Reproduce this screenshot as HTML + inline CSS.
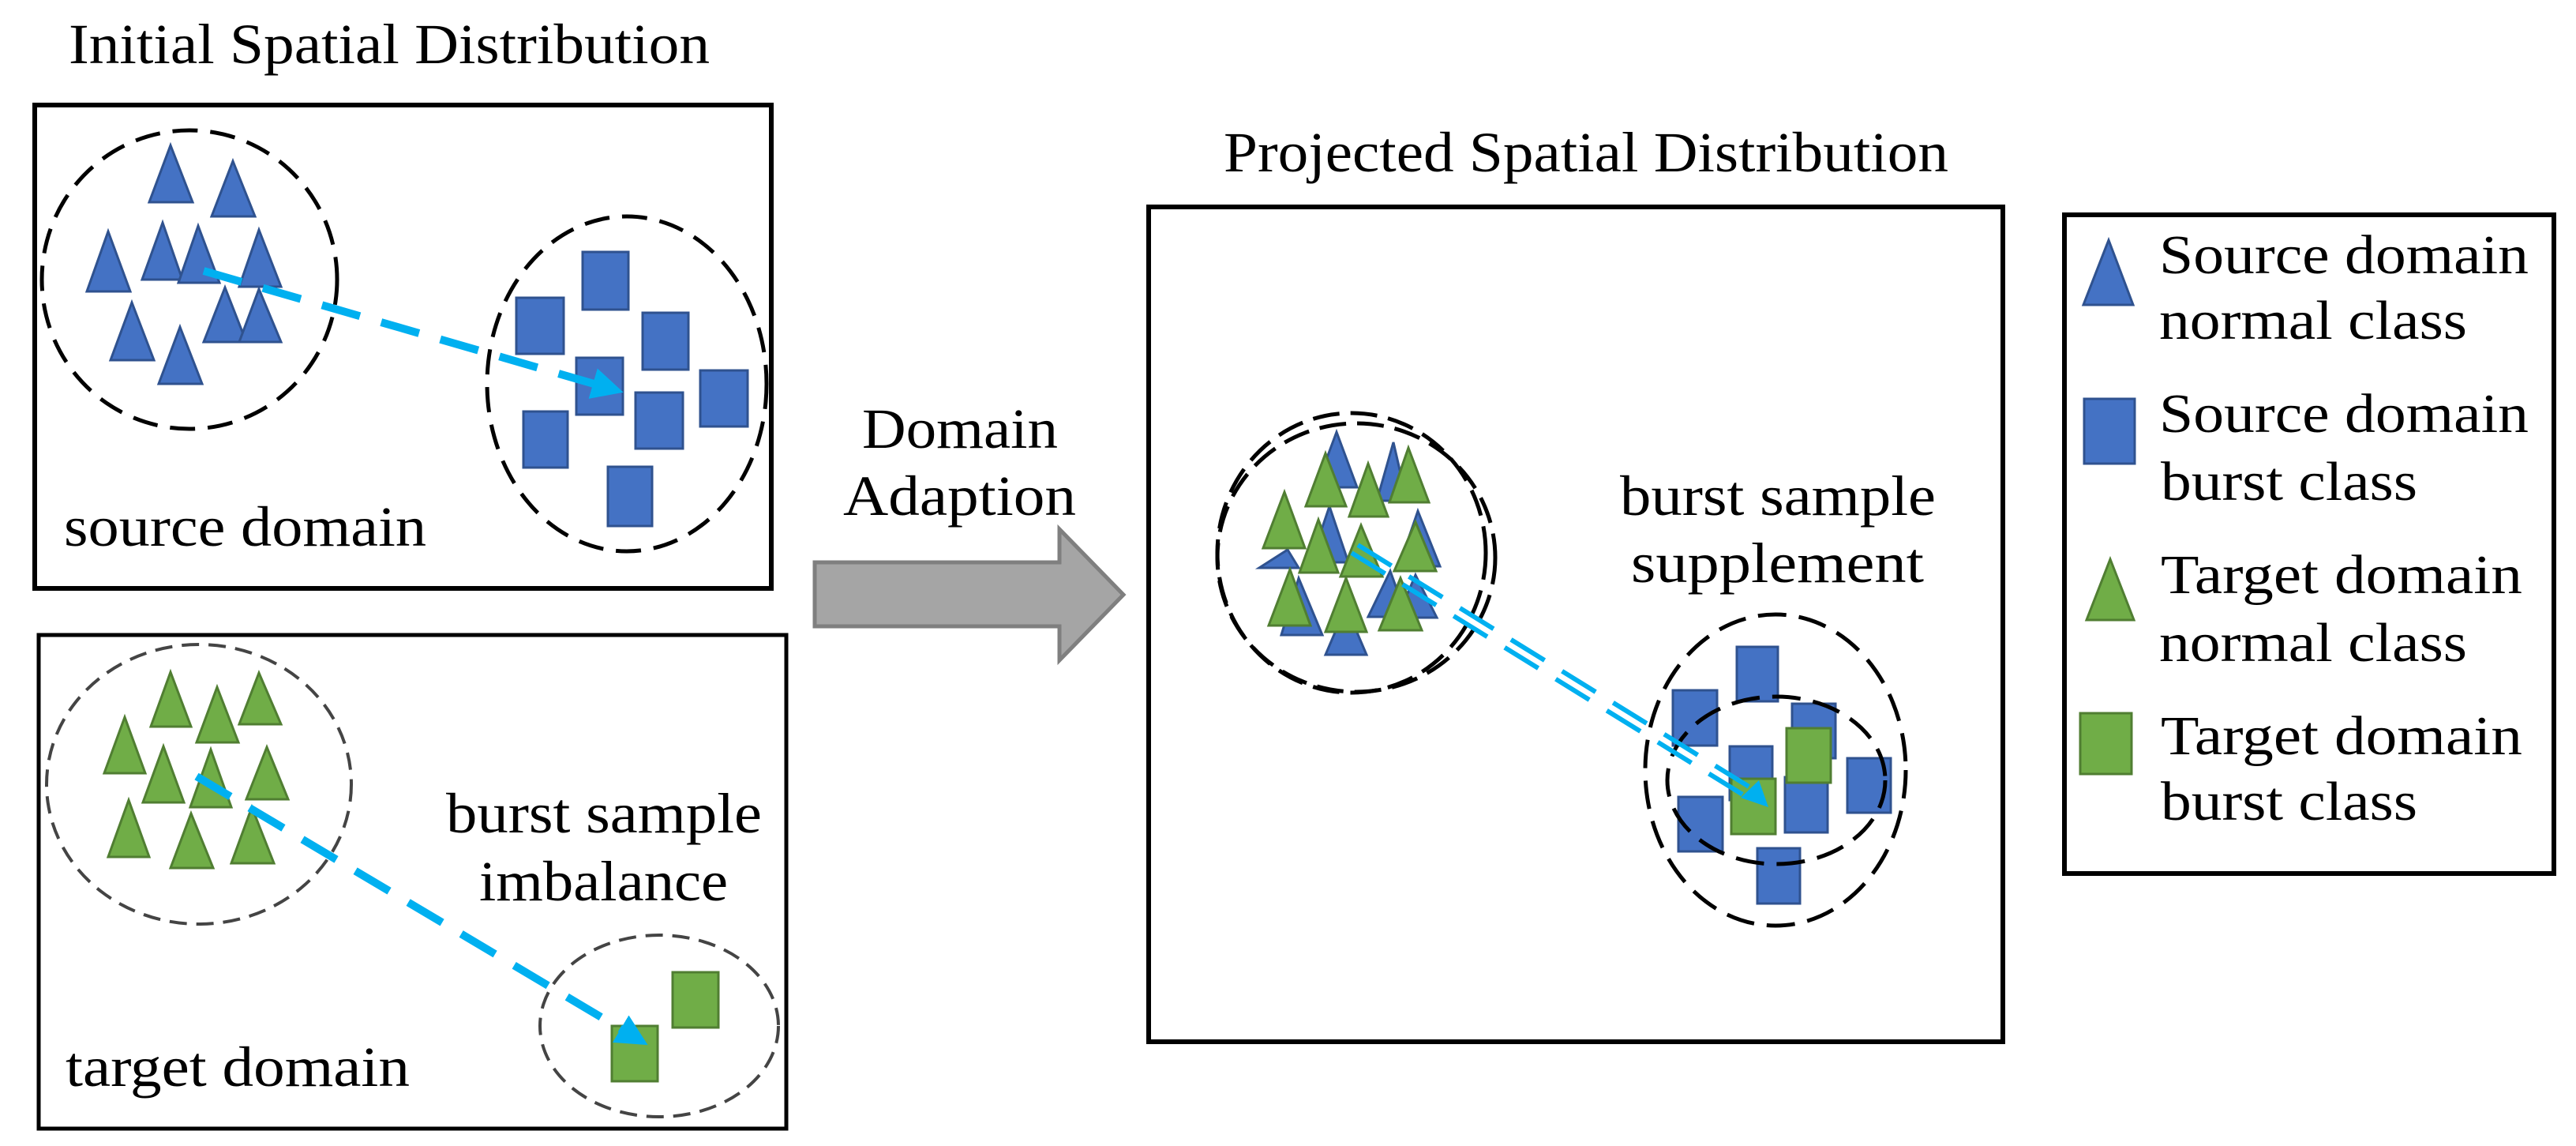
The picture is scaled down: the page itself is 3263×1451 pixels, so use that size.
<!DOCTYPE html>
<html><head><meta charset="utf-8"><style>
html,body{margin:0;padding:0;background:#fff;}
svg{display:block;}
text{font-family:"Liberation Serif",serif;fill:#000;}
</style></head><body>
<svg width="3263" height="1451" viewBox="0 0 3263 1451" xmlns="http://www.w3.org/2000/svg">
<defs>
<marker id="ah" markerWidth="4" markerHeight="4" refX="3" refY="2" orient="auto" markerUnits="strokeWidth">
<path d="M0,0 L4,2 L0,4 Z" fill="#00B0F0"/>
</marker>
</defs>
<g font-size="72">
<text x="87" y="80" textLength="812" lengthAdjust="spacingAndGlyphs">Initial Spatial Distribution</text>
<text x="1550" y="217" textLength="918" lengthAdjust="spacingAndGlyphs">Projected Spatial Distribution</text>
<text x="1092" y="567" textLength="248" lengthAdjust="spacingAndGlyphs">Domain</text>
<text x="1068" y="652" textLength="295" lengthAdjust="spacingAndGlyphs">Adaption</text>
</g>

<!-- boxes -->
<g fill="none" stroke="#000" stroke-width="6">
<rect x="44" y="133" width="933" height="612"/>
<rect x="49" y="804" width="947" height="625" stroke-width="5"/>
<rect x="1455" y="262" width="1082" height="1057"/>
<rect x="2615" y="272" width="620" height="834"/>
</g>

<!-- gray arrow -->
<path d="M1032,712 L1342,712 L1342,670 L1423,753 L1342,836 L1342,793 L1032,793 Z" fill="#A5A5A5" stroke="#7F7F7F" stroke-width="5"/>

<!-- source domain -->
<ellipse cx="240" cy="354" rx="187" ry="189" fill="none" stroke="#000" stroke-width="5" stroke-dasharray="32,16"/>
<ellipse cx="794" cy="486" rx="177" ry="212" fill="none" stroke="#000" stroke-width="5" stroke-dasharray="32,16"/>
<g fill="#4472C4" stroke="#2F528F" stroke-width="3">
<polygon points="216,184 244,256 189,256"/>
<polygon points="295,204 323,274 268,274"/>
<polygon points="137,293 165,369 110,369"/>
<polygon points="206,282 231,354 180,354"/>
<polygon points="251,286 278,358 226,358"/>
<polygon points="328,291 356,363 303,363"/>
<polygon points="167,383 195,456 140,456"/>
<polygon points="285,364 312,433 258,433"/>
<polygon points="328,366 356,433 303,433"/>
<polygon points="228,414 256,486 201,486"/>
<rect x="738" y="319" width="58" height="73"/>
<rect x="654" y="377" width="60" height="71"/>
<rect x="814" y="396" width="58" height="72"/>
<rect x="730" y="453" width="59" height="72"/>
<rect x="887" y="469" width="60" height="71"/>
<rect x="805" y="497" width="60" height="71"/>
<rect x="663" y="521" width="56" height="71"/>
<rect x="770" y="591" width="56" height="75"/>
</g>
<line x1="258" y1="343" x2="780" y2="494" stroke="#00B0F0" stroke-width="10" stroke-dasharray="50,28" marker-end="url(#ah)"/>
<text x="81" y="691" font-size="72" textLength="459" lengthAdjust="spacingAndGlyphs">source domain</text>

<!-- target domain -->
<ellipse cx="252" cy="993" rx="193" ry="177" fill="none" stroke="#444" stroke-width="4" stroke-dasharray="22,12"/>
<ellipse cx="835" cy="1299" rx="151" ry="115" fill="none" stroke="#444" stroke-width="4" stroke-dasharray="22,12"/>
<g fill="#70AD47" stroke="#507E32" stroke-width="3">
<polygon points="216,851 242,920 191,920"/>
<polygon points="275,870 302,940 249,940"/>
<polygon points="328,852 356,917 303,917"/>
<polygon points="158,908 184,979 132,979"/>
<polygon points="207,945 233,1016 181,1016"/>
<polygon points="267,949 293,1022 241,1022"/>
<polygon points="338,946 365,1012 312,1012"/>
<polygon points="163,1013 189,1085 137,1085"/>
<polygon points="242,1030 270,1099 216,1099"/>
<polygon points="319,1022 347,1093 293,1093"/>
<rect x="852" y="1231" width="58" height="70"/>
<rect x="775" y="1299" width="58" height="70"/>
</g>
<line x1="249" y1="983" x2="812" y2="1318" stroke="#00B0F0" stroke-width="10" stroke-dasharray="50,28" marker-end="url(#ah)"/>
<g font-size="72">
<text x="565" y="1054" textLength="400" lengthAdjust="spacingAndGlyphs">burst sample</text>
<text x="607" y="1140" textLength="315" lengthAdjust="spacingAndGlyphs">imbalance</text>
<text x="83" y="1375" textLength="436" lengthAdjust="spacingAndGlyphs">target domain</text>
</g>

<!-- projected -->
<ellipse cx="1712" cy="700" rx="170" ry="177" fill="none" stroke="#000" stroke-width="5" stroke-dasharray="34,14"/>
<ellipse cx="1718" cy="706" rx="176" ry="170" fill="none" stroke="#000" stroke-width="5" stroke-dasharray="34,14"/>
<g fill="#4472C4" stroke="#2F528F" stroke-width="3">
<polygon points="1693,547 1719,617 1667,617"/>
<polygon points="1765,560 1782,634 1744,634"/>
<polygon points="1684,641 1708,712 1660,712"/>
<polygon points="1796,647 1824,717 1772,717"/>
<polygon points="1631,696 1645,719 1595,719"/>
<polygon points="1645,732 1675,804 1623,804"/>
<polygon points="1705,768 1731,829 1679,829"/>
<polygon points="1761,723 1782,781 1733,781"/>
<polygon points="1793,728 1820,782 1770,782"/>
</g>
<g fill="#70AD47" stroke="#507E32" stroke-width="3">
<polygon points="1679,574 1705,641 1654,641"/>
<polygon points="1733,587 1758,654 1709,654"/>
<polygon points="1784,567 1810,636 1760,636"/>
<polygon points="1627,623 1653,694 1600,694"/>
<polygon points="1670,658 1695,725 1646,725"/>
<polygon points="1724,665 1751,730 1698,730"/>
<polygon points="1793,661 1819,723 1766,723"/>
<polygon points="1634,721 1660,792 1607,792"/>
<polygon points="1705,732 1731,800 1679,800"/>
<polygon points="1774,732 1801,798 1747,798"/>
</g>
<ellipse cx="2249" cy="975" rx="165" ry="197" fill="none" stroke="#000" stroke-width="5" stroke-dasharray="36,16"/>
<g fill="#4472C4" stroke="#2F528F" stroke-width="3">
<rect x="2200" y="819" width="52" height="69"/>
<rect x="2119" y="874" width="56" height="70"/>
<rect x="2270" y="891" width="55" height="69"/>
<rect x="2191" y="945" width="54" height="68"/>
<rect x="2340" y="960" width="55" height="69"/>
<rect x="2261" y="984" width="54" height="70"/>
<rect x="2126" y="1009" width="56" height="69"/>
<rect x="2226" y="1074" width="54" height="70"/>
</g>
<g fill="#70AD47" stroke="#507E32" stroke-width="3">
<rect x="2263" y="922" width="56" height="69"/>
<rect x="2193" y="986" width="56" height="70"/>
</g>
<ellipse cx="2250" cy="988" rx="138" ry="106" fill="none" stroke="#000" stroke-width="5" stroke-dasharray="36,16"/>
<line x1="1712" y1="700" x2="2222" y2="1015" stroke="#00B0F0" stroke-width="6" stroke-dasharray="50,26"/>
<line x1="1720" y1="690" x2="2230" y2="1005" stroke="#00B0F0" stroke-width="6" stroke-dasharray="50,26"/>
<polygon points="2240,1022 2205,1010 2228,988" fill="#00B0F0"/>
<g font-size="72">
<text x="2052" y="652" textLength="400" lengthAdjust="spacingAndGlyphs">burst sample</text>
<text x="2066" y="737" textLength="371" lengthAdjust="spacingAndGlyphs">supplement</text>
</g>

<!-- legend -->
<polygon points="2671,304 2702,386 2639,386" fill="#4472C4" stroke="#2F528F" stroke-width="3"/>
<rect x="2640" y="505" width="64" height="82" fill="#4472C4" stroke="#2F528F" stroke-width="3"/>
<polygon points="2673,708 2703,785 2643,785" fill="#70AD47" stroke="#507E32" stroke-width="3"/>
<rect x="2635" y="903" width="65" height="77" fill="#70AD47" stroke="#507E32" stroke-width="3"/>
<g font-size="70">
<text x="2735" y="346" textLength="468" lengthAdjust="spacingAndGlyphs">Source domain</text>
<text x="2735" y="429" textLength="390" lengthAdjust="spacingAndGlyphs">normal class</text>
<text x="2735" y="547" textLength="468" lengthAdjust="spacingAndGlyphs">Source domain</text>
<text x="2737" y="633" textLength="325" lengthAdjust="spacingAndGlyphs">burst class</text>
<text x="2737" y="751" textLength="458" lengthAdjust="spacingAndGlyphs">Target domain</text>
<text x="2735" y="837" textLength="390" lengthAdjust="spacingAndGlyphs">normal class</text>
<text x="2737" y="955" textLength="458" lengthAdjust="spacingAndGlyphs">Target domain</text>
<text x="2737" y="1038" textLength="325" lengthAdjust="spacingAndGlyphs">burst class</text>
</g>
</svg>
</body></html>
